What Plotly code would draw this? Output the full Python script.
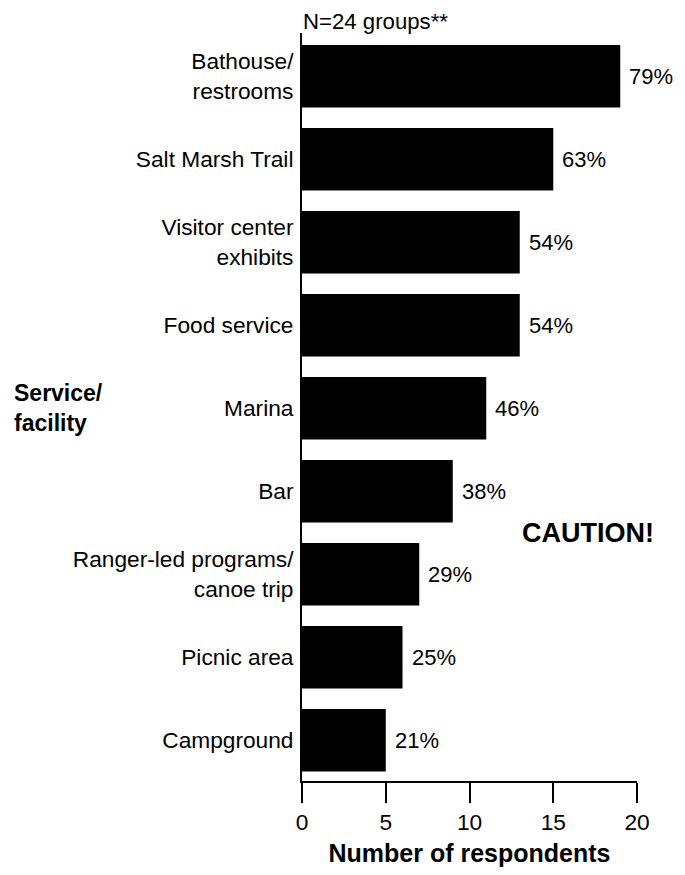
import plotly.graph_objects as go

categories = ["Bathouse/<br>restrooms", "Salt Marsh Trail", "Visitor center<br>exhibits",
              "Food service", "Marina", "Bar", "Ranger-led programs/<br>canoe trip",
              "Picnic area", "Campground"]
counts = [19, 15, 13, 13, 11, 9, 7, 6, 5]
percents = ["79%", "63%", "54%", "54%", "46%", "38%", "29%", "25%", "21%"]
x_ticks = [0, 5, 10, 15, 20]

FONT = "Liberation Sans, Arial, sans-serif"
FS = 22.7
FSB = 25

# page body has an 8px default margin; figure is sized so the page stays 685x875
W, H = 677, 867
L, R, T, B = 294, 48, 25, 88

fig = go.Figure()
fig.add_trace(go.Bar(
    x=counts, y=categories, orientation="h",
    marker=dict(color="black", line=dict(width=0)),
    width=0.753, hoverinfo="skip",
))

for c, v, p in zip(categories, counts, percents):
    fig.add_annotation(x=v, y=c, xref="x", yref="y", text=p, showarrow=False,
                       xanchor="left", yanchor="middle", xshift=7,
                       font=dict(family=FONT, size=FS - 0.7, color="black"))

fig.add_annotation(x=0, y=1.0155, xref="paper", yref="paper", text="N=24 groups**",
                   showarrow=False, xanchor="left", yanchor="middle", xshift=-1,
                   font=dict(family=FONT, size=FS - 0.5, color="black"))
fig.add_annotation(x=-0.866, y=0.498, xref="paper", yref="paper",
                   text="<b>Service/<br>facility</b>",
                   showarrow=False, xanchor="left", yanchor="middle", align="left",
                   font=dict(family=FONT, size=23, color="black"))
fig.add_annotation(x=0.855, y=0.3316, xref="paper", yref="paper", text="<b>CAUTION!</b>",
                   showarrow=False, xanchor="center", yanchor="middle",
                   font=dict(family=FONT, size=27, color="black"))

fig.update_layout(
    width=W, height=H,
    margin=dict(l=L, r=R, t=T, b=B, pad=0),
    paper_bgcolor="white", plot_bgcolor="white",
    showlegend=False,
    font=dict(family=FONT, size=FS, color="black"),
)
fig.update_xaxes(
    range=[0, 20], tickvals=x_ticks, ticktext=[str(t) for t in x_ticks],
    showgrid=False, zeroline=False, showline=True, linecolor="black", linewidth=2,
    ticks="outside", ticklen=20, tickwidth=2, tickcolor="black",
    tickfont=dict(family=FONT, size=FS),
    title=dict(text="<b>Number of respondents</b>", font=dict(family=FONT, size=FSB), standoff=10),
    fixedrange=True,
)
fig.update_yaxes(
    range=[8.49, -0.52], showgrid=False, zeroline=False, showline=True,
    linecolor="black", linewidth=2, ticks="", ticklabelstandoff=2,
    tickfont=dict(family=FONT, size=FS), fixedrange=True,
)

fig.write_html("out.html", config={"displayModeBar": False})
